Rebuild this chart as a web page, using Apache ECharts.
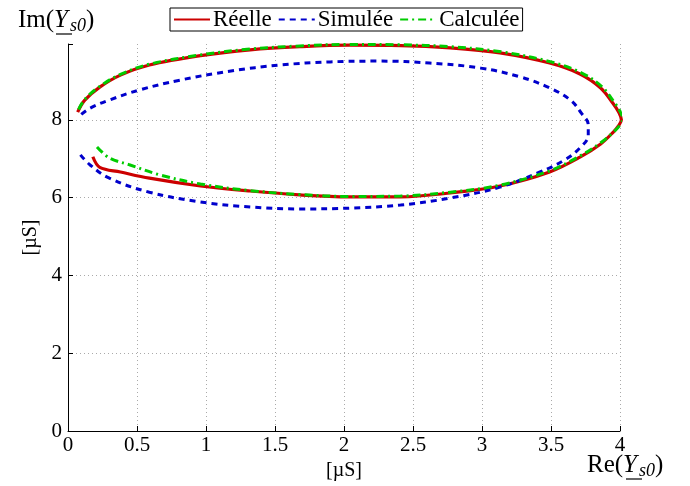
<!DOCTYPE html>
<html><head><meta charset="utf-8">
<script src="https://cdn.jsdelivr.net/npm/echarts@6/dist/echarts.min.js"></script>
<style>html,body{margin:0;padding:0;background:#fff}#c{width:690px;height:486px}</style>
</head><body><div id="c"></div>
<script>
const seriesNames = ['Réelle', 'Simulée', 'Calculée'];
const xTicks = [0, 0.5, 1, 1.5, 2, 2.5, 3, 3.5, 4];
const yTicks = [0, 2, 4, 6, 8];
const reelle = [
 [0.18,7.05],[0.23,6.78],[0.38,6.66],[0.59,6.5],[0.96,6.3],[1.32,6.17],[1.68,6.07],[2.04,6.02],[2.41,6.02],
 [2.77,6.12],[3.13,6.3],[3.49,6.66],[3.71,7.04],[3.86,7.38],[3.95,7.68],[3.99,7.85],[4.01,8.0],[3.99,8.2],[3.95,8.42],
 [3.86,8.82],[3.71,9.18],[3.49,9.46],[3.13,9.72],[2.77,9.85],[2.41,9.91],[2.04,9.92],[1.68,9.88],[1.32,9.8],
 [0.96,9.65],[0.59,9.41],[0.38,9.15],[0.23,8.84],[0.12,8.5],[0.07,8.2]
];
const simulee = [
 [0.09,7.1],[0.16,6.84],[0.3,6.5],[0.59,6.14],[0.96,5.89],[1.32,5.76],[1.68,5.71],[2.04,5.73],[2.41,5.81],
 [2.77,5.99],[3.13,6.27],[3.42,6.66],[3.6,6.97],[3.71,7.28],[3.77,7.61],[3.77,7.87],[3.72,8.17],[3.64,8.51],
 [3.49,8.82],[3.28,9.1],[2.99,9.33],[2.62,9.46],[2.26,9.51],[1.9,9.49],[1.54,9.41],[1.17,9.25],[0.81,9.02],
 [0.52,8.77],[0.3,8.51],[0.16,8.3],[0.09,8.12]
];
const calculee = [
 [0.21,7.3],[0.3,7.02],[0.45,6.84],[0.67,6.58],[0.96,6.35],[1.32,6.18],[1.68,6.08],[2.04,6.03],[2.41,6.04],
 [2.77,6.14],[3.13,6.32],[3.49,6.69],[3.71,7.07],[3.86,7.41],[3.96,7.71],[4.0,7.87],[4.02,8.02],[4.0,8.22],[3.96,8.44],
 [3.87,8.85],[3.72,9.21],[3.5,9.49],[3.14,9.75],[2.77,9.88],[2.41,9.93],[2.04,9.94],[1.68,9.9],[1.32,9.82],
 [0.96,9.67],[0.59,9.43],[0.38,9.17],[0.23,8.86],[0.12,8.52],[0.07,8.22]
];
const serif = '"Liberation Serif","DejaVu Serif",serif';
const chart = echarts.init(document.getElementById('c'));
const nameRich = {
  n: {fontFamily: serif, fontSize: 25, color: '#000'},
  i: {fontFamily: serif, fontSize: 25, fontStyle: 'italic', color: '#000', padding: [0, 2, 0, 0]},
  s: {fontFamily: serif, fontSize: 18, fontStyle: 'italic', color: '#000', padding: [12, 0, 0, 0]}
};
chart.setOption({
  animation: false,
  grid: {left: 68, right: 70, top: 44, bottom: 55, containLabel: false},
  legend: {
    data: seriesNames, left: 170, top: 8, orient: 'horizontal',
    borderColor: '#000', borderWidth: 1, padding: [0, 3, 0, 3], itemGap: 6,
    itemWidth: 36, itemHeight: 22, backgroundColor: '#fff',
    itemStyle: {opacity: 0},
    textStyle: {fontFamily: serif, fontSize: 23, color: '#000', lineHeight: 22, padding: [0, 0, 0, -2]}
  },
  xAxis: {
    type: 'value', min: 0, max: 4, interval: 0.5,
    name: '[µS]', nameLocation: 'middle', nameGap: 24,
    nameTextStyle: {fontFamily: serif, fontSize: 20, color: '#000'},
    axisLine: {lineStyle: {color: '#000', width: 1}},
    axisTick: {inside: true, length: 5, lineStyle: {color: '#000'}},
    axisLabel: {fontFamily: serif, fontSize: 21, color: '#000', margin: 4, formatter: v => String(v)},
    splitLine: {show: true, lineStyle: {color: '#aaa', type: [1, 3], width: 1}}
  },
  yAxis: {
    type: 'value', min: 0, max: 9.95, interval: 2,
    name: '[µS]', nameLocation: 'middle', nameGap: 20, nameRotate: 90,
    nameTextStyle: {fontFamily: serif, fontSize: 20, color: '#000'},
    axisLine: {show: true, lineStyle: {color: '#000', width: 1}},
    axisTick: {show: true, inside: true, length: 5, lineStyle: {color: '#000'}},
    axisLabel: {fontFamily: serif, fontSize: 21, color: '#000', margin: 6,
      formatter: v => (yTicks.indexOf(v) >= 0 ? String(v) : '')},
    splitLine: {show: true, showMaxLine: false, lineStyle: {color: '#aaa', type: [1, 3], width: 1}}
  },
  series: [
    {name: seriesNames[0], type: 'line', data: reelle, symbol: 'none', smooth: 0.35, z: 2,
     lineStyle: {color: '#cc0000', width: 3.2, type: 'solid'}, itemStyle: {color: '#cc0000'}},
    {name: seriesNames[1], type: 'line', data: simulee, symbol: 'none', smooth: 0.4, z: 3,
     lineStyle: {color: '#0000cc', width: 3, type: [6, 5]}, itemStyle: {color: '#0000cc'}},
    {name: seriesNames[2], type: 'line', data: calculee, symbol: 'none', smooth: 0.35, z: 4,
     lineStyle: {color: '#00cc00', width: 3, type: [8, 4, 2, 4]}, itemStyle: {color: '#00cc00'}}
  ],
  graphic: [
    {type: 'text', left: 18, top: 8, style: {text: '{n|Im(}{i|Y}{s|s0}{n|)}', rich: nameRich}},
    {type: 'line', shape: {x1: 56, y1: 34, x2: 72, y2: 34}, style: {stroke: '#000', lineWidth: 1.2}},
    {type: 'text', left: 587, top: 453, style: {text: '{n|Re(}{i|Y}{s|s0}{n|)}', rich: nameRich}},
    {type: 'line', shape: {x1: 626, y1: 479, x2: 642, y2: 479}, style: {stroke: '#000', lineWidth: 1.2}}
  ]
});
</script></body></html>
